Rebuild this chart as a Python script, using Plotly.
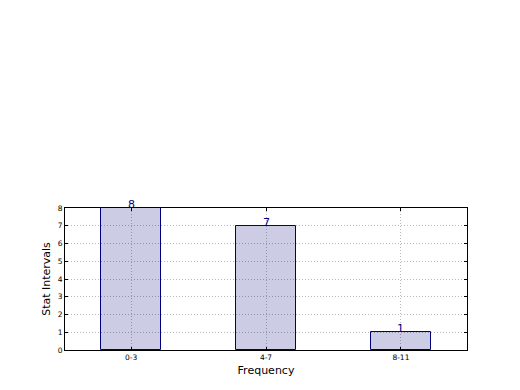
import plotly.graph_objects as go

categories = ["0-3", "4-7", "8-11"]
counts = [8, 7, 1]
y_ticks = [0, 1, 2, 3, 4, 5, 6, 7, 8]

fig = go.Figure()
fig.add_trace(go.Bar(
    x=list(range(len(categories))), y=counts, width=0.445,
    marker=dict(color="rgba(0,0,120,0.2)", line=dict(color="#00007f", width=1)),
    hoverinfo="skip",
))
for i, v in enumerate(counts):
    fig.add_annotation(x=i, y=v, text=str(v), showarrow=False, yanchor="bottom",
                       yshift=-5, font=dict(color="#00007f", size=11, family="DejaVu Sans"))

axis_common = dict(showline=True, linecolor="black", linewidth=1, mirror="ticks",
                   ticks="inside", ticklen=3, tickcolor="black",
                   showgrid=True, gridcolor="#b8b8b8", griddash="1px,2px", gridwidth=1,
                   zeroline=False, tickfont=dict(size=7.5, family="DejaVu Sans", color="black"),
                   title_font=dict(size=11, family="DejaVu Sans", color="black"))
fig.update_xaxes(range=[-0.49, 2.49], tickvals=list(range(len(categories))), ticktext=categories,
                 title_text="Frequency", title_standoff=5, **axis_common)
fig.update_yaxes(range=[0, 8], tickvals=y_ticks, title_text="Stat Intervals", title_standoff=4,
                 **axis_common)
# page body has an 8px default margin, so margins are offset to compensate
fig.update_layout(width=520, height=390, plot_bgcolor="white", paper_bgcolor="white",
                  margin=dict(l=57, r=61, t=200, b=48), showlegend=False, bargap=0)
fig.write_html("out.html")
